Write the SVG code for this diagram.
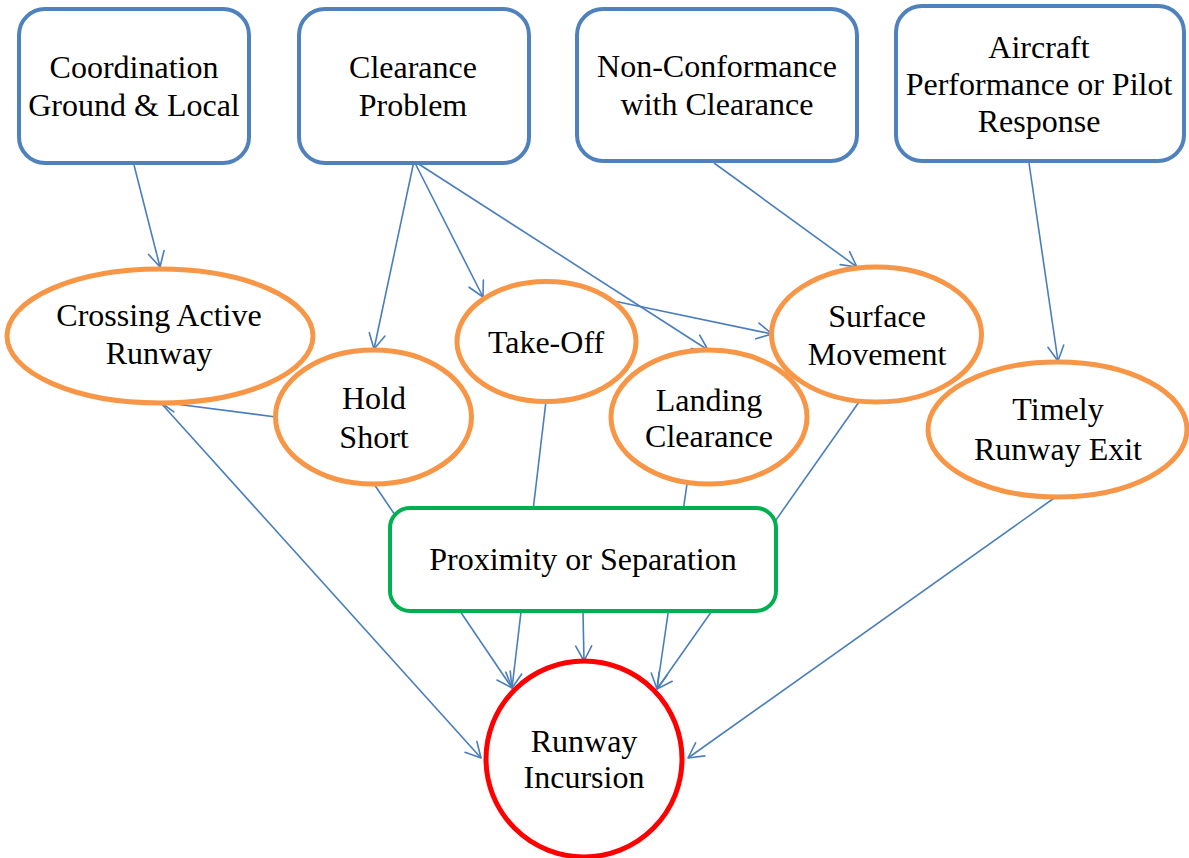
<svg xmlns="http://www.w3.org/2000/svg" width="1189" height="858" viewBox="0 0 1189 858">
  <defs>
    <marker id="arrow" markerUnits="userSpaceOnUse" markerWidth="24" markerHeight="24" viewBox="-18 -12 24 24" refX="0" refY="0" orient="auto" overflow="visible">
      <path d="M-15,-8 L0,0 L-15,8" fill="none" stroke="#4A7EBB" stroke-width="1.6" stroke-linecap="round" stroke-linejoin="round"/>
    </marker>
    <style>
      .edge { fill: none; stroke: #4A7EBB; stroke-width: 1.6; marker-end: url(#arrow); }
      .cause { fill: #FFFFFF; stroke: #4F81BD; stroke-width: 4; }
      .event { fill: #FFFFFF; stroke: #F79646; stroke-width: 5; }
      .hazard { fill: #FFFFFF; stroke: #00B050; stroke-width: 4; }
      .outcome { fill: #FFFFFF; stroke: #FF0000; stroke-width: 5; }
      text { font-family: "Liberation Serif", "Times New Roman", serif; font-size: 32px; fill: #000000; text-anchor: middle; }
    </style>
  </defs>

  <rect width="1189" height="858" fill="#FFFFFF"/>

  <!-- connectors -->
  <g id="connectors">
    <path class="edge" d="M134,165 L160,267"/>
    <path class="edge" d="M414,161 L374,349"/>
    <path class="edge" d="M414,161 L483,297"/>
    <path class="edge" d="M414,161 L708,350"/>
    <path class="edge" d="M714,163 L857,267"/>
    <path class="edge" d="M1029,163 L1058,361"/>
    <path class="edge" d="M609,300 L772,334"/>
    <path class="edge" d="M276,417 L160,402"/>
    <path class="edge" d="M160,402 L481,758"/>
    <path class="edge" d="M1057,496 L688,758"/>
    <path class="edge" d="M374,484 L512,688"/>
    <path class="edge" d="M546,401 L512,688"/>
    <path class="edge" d="M687,484 L657,689"/>
    <path class="edge" d="M859,402 L657,689"/>
    <path class="edge" d="M583,612 L584,661"/>
  </g>

  <!-- contributing factors -->
  <g id="coordination">
    <rect class="cause" x="19" y="9" width="230" height="154" rx="26"/>
    <text x="134" y="78">Coordination</text>
    <text x="134" y="116">Ground &amp; Local</text>
  </g>
  <g id="clearance-problem">
    <rect class="cause" x="299" y="9" width="230" height="154" rx="26"/>
    <text x="413" y="78">Clearance</text>
    <text x="413" y="116">Problem</text>
  </g>
  <g id="non-conformance">
    <rect class="cause" x="577" y="9" width="280" height="152" rx="26"/>
    <text x="717" y="77">Non-Conformance</text>
    <text x="717" y="115">with Clearance</text>
  </g>
  <g id="aircraft-performance">
    <rect class="cause" x="896" y="6" width="288" height="155" rx="26"/>
    <text x="1039" y="58">Aircraft</text>
    <text x="1039" y="95">Performance or Pilot</text>
    <text x="1039" y="132">Response</text>
  </g>

  <!-- operations -->
  <g id="crossing-active-runway">
    <ellipse class="event" cx="160" cy="336" rx="153" ry="67"/>
    <text x="159" y="326">Crossing Active</text>
    <text x="159" y="364">Runway</text>
  </g>
  <g id="hold-short">
    <ellipse class="event" cx="373.5" cy="417" rx="98" ry="67"/>
    <text x="374" y="409">Hold</text>
    <text x="374" y="448">Short</text>
  </g>
  <g id="take-off">
    <ellipse class="event" cx="546.5" cy="341.5" rx="89.5" ry="60"/>
    <text x="546" y="353">Take-Off</text>
  </g>
  <g id="landing-clearance">
    <ellipse class="event" cx="709" cy="417" rx="98" ry="67"/>
    <text x="709" y="411">Landing</text>
    <text x="709" y="447">Clearance</text>
  </g>
  <g id="surface-movement">
    <ellipse class="event" cx="876.5" cy="334.5" rx="105" ry="67.5"/>
    <text x="877" y="327">Surface</text>
    <text x="877" y="365">Movement</text>
  </g>
  <g id="timely-runway-exit">
    <ellipse class="event" cx="1057.5" cy="429.5" rx="129.5" ry="67.5"/>
    <text x="1058" y="420">Timely</text>
    <text x="1058" y="460">Runway Exit</text>
  </g>

  <!-- hazard -->
  <g id="proximity-separation">
    <rect class="hazard" x="390" y="508" width="386" height="103" rx="20"/>
    <text x="583" y="570">Proximity or Separation</text>
  </g>

  <!-- outcome -->
  <g id="runway-incursion">
    <circle class="outcome" cx="584" cy="759" r="98"/>
    <text x="584" y="752">Runway</text>
    <text x="584" y="788">Incursion</text>
  </g>
</svg>
